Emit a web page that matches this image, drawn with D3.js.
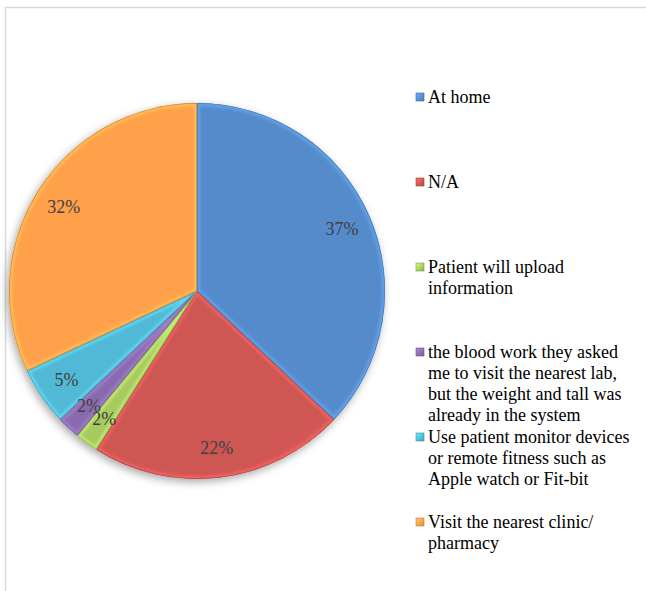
<!DOCTYPE html>
<html>
<head>
<meta charset="utf-8">
<script src="https://cdn.jsdelivr.net/npm/d3@7"></script>
<style>
  html, body { margin: 0; padding: 0; background: #fff; }
  svg { display: block; }
  text { font-family: "Liberation Serif", "Times New Roman", "DejaVu Serif", serif; }
</style>
</head>
<body>
<svg id="chart" width="646" height="591"></svg>
<script>
// Where the care measurements took place (share of respondents)
const categories = [
  "At home",
  "N/A",
  "Patient will upload information",
  "the blood work they asked me to visit the nearest lab, but the weight and tall was already in the system",
  "Use patient monitor devices or remote fitness such as Apple watch or Fit-bit",
  "Visit the nearest clinic/ pharmacy"
];
const values = [37, 22, 2, 2, 5, 32];
const legendLines = [
  ["At home"],
  ["N/A"],
  ["Patient will upload", "information"],
  ["the blood work they asked", "me to visit the nearest lab,", "but the weight and tall was", "already in the system"],
  ["Use patient monitor devices", "or remote fitness such as", "Apple watch or Fit-bit"],
  ["Visit the nearest clinic/", "pharmacy"]
];
const colors = ["#4f81bd", "#c0504d", "#9bbb59", "#8064a2", "#4bacc6", "#f79646"];

const svg = d3.select("#chart");
const W = 646, H = 591;
const cx = 197, cy = 291, R = 188;

// chart area frame
svg.append("rect")
  .attr("x", 5.5).attr("y", 7.5)
  .attr("width", W + 10).attr("height", H + 10)
  .attr("fill", "none").attr("stroke", "#d9d9d9").attr("stroke-width", 1.5);

const defs = svg.append("defs");

// soft shadow under the pie
const shadow = defs.append("filter").attr("id", "pieShadow")
  .attr("x", "-20%").attr("y", "-20%").attr("width", "140%").attr("height", "140%");
shadow.append("feDropShadow")
  .attr("dx", -2).attr("dy", 3).attr("stdDeviation", 4)
  .attr("flood-color", "#000").attr("flood-opacity", 0.35);

// blur for the inner bevel edge
const soft = defs.append("filter").attr("id", "bevelBlur");
soft.append("feGaussianBlur").attr("stdDeviation", 1.6);

// per-slice shading: lighter toward the rim
colors.forEach((c, i) => {
  const g = defs.append("radialGradient")
    .attr("id", "grad" + i)
    .attr("gradientUnits", "userSpaceOnUse")
    .attr("cx", cx).attr("cy", cy).attr("r", R);
  const base = d3.color(c);
  g.append("stop").attr("offset", "0%").attr("stop-color", base.brighter(0.15).formatHex());
  g.append("stop").attr("offset", "85%").attr("stop-color", base.brighter(0.3).formatHex());
  g.append("stop").attr("offset", "100%").attr("stop-color", base.brighter(0.2).formatHex());

  const lg = defs.append("linearGradient")
    .attr("id", "leg" + i)
    .attr("x1", "0").attr("y1", "0").attr("x2", "1").attr("y2", "1");
  lg.append("stop").attr("offset", "0%").attr("stop-color", base.brighter(0.9).formatHex());
  lg.append("stop").attr("offset", "100%").attr("stop-color", base.darker(0.2).formatHex());
});

const pie = d3.pie().sort(null).value(d => d)(values);
const arc = d3.arc().innerRadius(0).outerRadius(R);
const labelArc = d3.arc().innerRadius(R * 0.84).outerRadius(R * 0.84);

const pieG = svg.append("g").attr("transform", `translate(${cx},${cy})`);

pie.forEach((d, i) => {
  defs.append("clipPath").attr("id", "clip" + i)
    .append("path").attr("d", arc(d));
});

const body = pieG.append("g").attr("filter", "url(#pieShadow)");
body.selectAll("path.slice")
  .data(pie)
  .join("path")
  .attr("class", "slice")
  .attr("d", arc)
  .attr("fill", (d, i) => `url(#grad${i})`);

// bevel: light inner edge and darker outer edge on each slice
pie.forEach((d, i) => {
  const base = d3.color(colors[i]);
  const g = pieG.append("g").attr("clip-path", `url(#clip${i})`);
  g.append("path")
    .attr("d", arc(d))
    .attr("fill", "none")
    .attr("stroke", base.brighter(0.8).formatHex())
    .attr("stroke-opacity", 0.7)
    .attr("stroke-width", 6)
    .attr("filter", "url(#bevelBlur)");
  g.append("path")
    .attr("d", arc(d))
    .attr("fill", "none")
    .attr("stroke", base.darker(0.9).formatHex())
    .attr("stroke-opacity", 0.6)
    .attr("stroke-width", 1.6);
});

// value labels
pieG.selectAll("text.val")
  .data(pie)
  .join("text")
  .attr("class", "val")
  .attr("transform", d => `translate(${labelArc.centroid(d)})`)
  .attr("text-anchor", "middle")
  .attr("dy", "0.35em")
  .attr("font-size", 18)
  .attr("fill", "#404040")
  .text(d => d.value + "%");

// legend
const legX = 416, legY0 = 97, slot = 85, lineH = 21;
const leg = svg.append("g")
  .attr("font-size", 18)
  .attr("fill", "#000");

categories.forEach((name, i) => {
  const y = legY0 + i * slot;
  leg.append("rect")
    .attr("x", legX).attr("y", y - 4)
    .attr("width", 8).attr("height", 8)
    .attr("fill", `url(#leg${i})`)
    .attr("stroke", d3.color(colors[i]).darker(0.6).formatHex())
    .attr("stroke-width", 0.6);
  const t = leg.append("text")
    .attr("x", legX + 12).attr("y", y);
  legendLines[i].forEach((line, k) => {
    t.append("tspan")
      .attr("x", legX + 12)
      .attr("dy", k === 0 ? "0.33em" : lineH)
      .text(line);
  });
});
</script>
</body>
</html>
